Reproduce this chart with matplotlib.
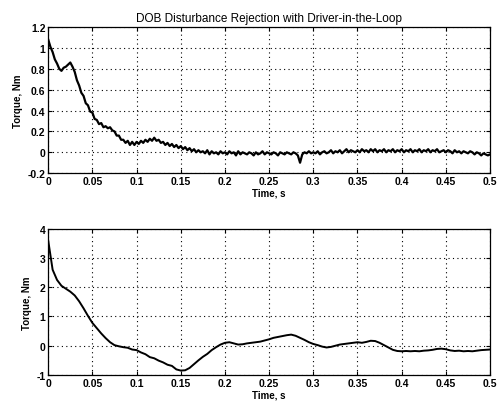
import matplotlib.pyplot as plt
import numpy as np

plt.rcParams['font.family'] = ['Liberation Sans', 'DejaVu Sans']

torque_top = [
    1.08, 1.01, 0.96, 0.89, 0.85, 0.80, 0.78, 0.81, 0.82, 0.84,
    0.86, 0.82, 0.77, 0.69, 0.64, 0.57, 0.54, 0.47, 0.45, 0.39,
    0.38, 0.32, 0.31, 0.27, 0.28, 0.24, 0.25, 0.23, 0.24, 0.21,
    0.20, 0.16, 0.16, 0.12, 0.12, 0.09, 0.11, 0.07, 0.10, 0.07,
    0.10, 0.08, 0.11, 0.09, 0.12, 0.10, 0.13, 0.11, 0.14, 0.11,
    0.12, 0.09, 0.10, 0.07, 0.09, 0.06, 0.08, 0.05, 0.07, 0.04,
    0.06, 0.03, 0.05, 0.02, 0.04, 0.01, 0.03, 0.00, 0.02, 0.00,
    0.01, -0.01, 0.02, -0.02, 0.01, -0.01, 0.00, -0.02, 0.01, -0.01,
    0.00, -0.02, 0.01, -0.01, 0.00, -0.03, 0.01, -0.02, 0.00, -0.01,
    -0.02, 0.00, -0.01, -0.03, 0.00, -0.02, -0.01, 0.01, -0.02, 0.00,
    -0.01, -0.02, 0.00, -0.01, -0.03, 0.00, -0.01, -0.02, 0.00, -0.01,
    -0.02, 0.00, -0.01, -0.03, -0.10, -0.02, 0.00, -0.01, 0.01, -0.01,
    0.00, -0.01, 0.01, -0.02, 0.00, 0.01, -0.01, 0.00, 0.02, -0.01,
    0.01, 0.00, 0.02, -0.01, 0.01, 0.03, 0.00, 0.02, 0.01, 0.00,
    0.02, 0.00, 0.03, 0.01, 0.02, 0.00, 0.03, 0.01, 0.03, 0.00,
    0.02, 0.01, 0.03, 0.00, 0.02, 0.01, 0.03, 0.00, 0.02, 0.01,
    0.03, 0.00, 0.02, 0.01, 0.03, 0.00, 0.02, 0.01, 0.03, 0.00,
    0.02, 0.01, 0.03, 0.00, 0.02, 0.01, 0.03, 0.00, 0.01, 0.02,
    0.00, 0.02, 0.01, -0.01, 0.02, 0.00, 0.01, -0.01, 0.01, 0.00,
    -0.01, 0.01, 0.00, -0.02, 0.00, -0.01, -0.03, -0.01, -0.02, -0.03,
    -0.02,
]

# bottom trace, sampled every 5 ms
torque_bot = [
    3.60, 2.60, 2.25, 2.05, 1.95, 1.85, 1.72, 1.52, 1.28, 1.02,
    0.78, 0.60, 0.42, 0.26, 0.12, 0.02, -0.02, -0.05, -0.07, -0.13,
    -0.15, -0.23, -0.29, -0.39, -0.43, -0.51, -0.57, -0.65, -0.69, -0.81,
    -0.85, -0.84, -0.76, -0.63, -0.50, -0.38, -0.28, -0.15, -0.05, 0.04,
    0.10, 0.12, 0.08, 0.04, 0.05, 0.08, 0.10, 0.12, 0.14, 0.18,
    0.22, 0.27, 0.30, 0.33, 0.36, 0.38, 0.34, 0.27, 0.20, 0.12,
    0.06, 0.02, -0.03, -0.06, -0.04, 0.00, 0.04, 0.06, 0.08, 0.10,
    0.12, 0.10, 0.13, 0.17, 0.16, 0.10, 0.02, -0.06, -0.14, -0.18,
    -0.19, -0.18, -0.19, -0.18, -0.19, -0.17, -0.16, -0.14, -0.11, -0.10,
    -0.12, -0.16, -0.18, -0.17, -0.19, -0.18, -0.19, -0.17, -0.15, -0.14,
    -0.13,
]

xticks = [0, 0.05, 0.1, 0.15, 0.2, 0.25, 0.3, 0.35, 0.4, 0.45, 0.5]
xtick_labels = ['0', '0.05', '0.1', '0.15', '0.2', '0.25', '0.3', '0.35', '0.4', '0.45', '0.5']
yticks_top = [-0.2, 0, 0.2, 0.4, 0.6, 0.8, 1, 1.2]
ytick_labels_top = ['-0.2', '0', '0.2', '0.4', '0.6', '0.8', '1', '1.2']
yticks_bot = [-1, 0, 1, 2, 3, 4]
ytick_labels_bot = ['-1', '0', '1', '2', '3', '4']

fig = plt.figure(figsize=(4.97, 4.06), dpi=100)
ax1 = fig.add_axes([0.097, 0.571, 0.889, 0.360])
ax2 = fig.add_axes([0.097, 0.074, 0.889, 0.360])

t1 = np.linspace(0, 0.5, len(torque_top))
t2 = np.linspace(0, 0.5, len(torque_bot))
ax1.plot(t1, torque_top, color='black', lw=1.6)
ax2.plot(t2, torque_bot, color='black', lw=1.4)

for ax, yt, ytl, ylim in [(ax1, yticks_top, ytick_labels_top, (-0.2, 1.2)),
                          (ax2, yticks_bot, ytick_labels_bot, (-1, 4))]:
    ax.set_xlim(0, 0.5)
    ax.set_ylim(*ylim)
    ax.set_xticks(xticks)
    ax.set_xticklabels(xtick_labels, fontsize=7.5, fontweight='bold')
    ax.set_yticks(yt)
    ax.set_yticklabels(ytl, fontsize=7.5, fontweight='bold')
    ax.grid(True, color='black', linestyle=(0, (1, 3)), linewidth=0.8)
    ax.tick_params(direction='in', top=True, right=True, length=3, width=0.8, pad=2)
    for s in ax.spines.values():
        s.set_linewidth(0.9)
    ax.set_xlabel('Time, s', fontsize=7, fontweight='bold', labelpad=1)
    ax.set_ylabel('Torque, Nm', fontsize=7, fontweight='bold', labelpad=3)

ax1.set_title('DOB Disturbance Rejection with Driver-in-the-Loop', fontsize=8.5, pad=4)

fig.savefig('out.png', dpi=100)
